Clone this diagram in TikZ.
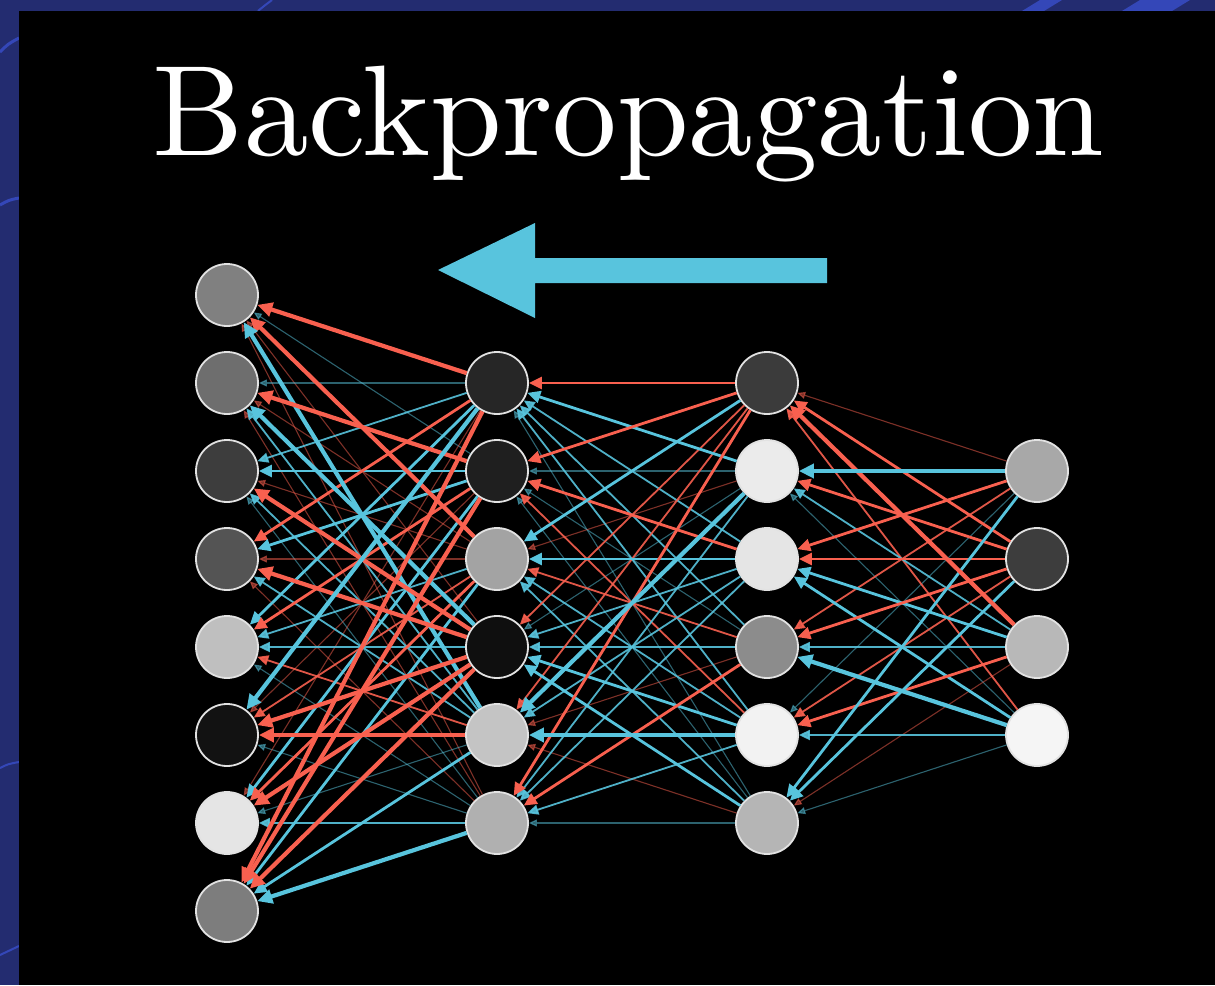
\documentclass[tikz,border=0pt]{standalone}
\usepackage{fontspec}
\usetikzlibrary{arrows.meta}
\newfontfamily\titlefont{lmroman10-regular.otf}
\definecolor{bpblue}{HTML}{58C4DD}
\definecolor{bpred}{HTML}{F8604F}
\definecolor{navyframe}{HTML}{232C70}
\definecolor{navystreak}{HTML}{3447B8}
\definecolor{ringgray}{HTML}{E2E2E2}

\begin{document}
\begin{tikzpicture}[x=1pt,y=-1pt,
  neuron/.style={circle, draw=ringgray, line width=1.8pt, minimum size=62pt, inner sep=0pt},
  w0/.style={line width=1.1pt, opacity=0.5, -{Triangle[length=8pt,width=7pt]}},
  w1/.style={line width=1.8pt, opacity=0.9, -{Triangle[length=11pt,width=10pt]}},
  w2/.style={line width=2.8pt, -{Triangle[length=13pt,width=12pt]}},
  w3/.style={line width=4.2pt, -{Triangle[length=15pt,width=14pt]}},
  r0/.style={w0, color=bpred}, r1/.style={w1, color=bpred},
  r2/.style={w2, color=bpred}, r3/.style={w3, color=bpred},
  b0/.style={w0, color=bpblue}, b1/.style={w1, color=bpblue},
  b2/.style={w2, color=bpblue}, b3/.style={w3, color=bpblue}]
\useasboundingbox (0,0) rectangle (1215,985);

% frame behind the slide
\fill[navyframe] (0,0) rectangle (1215,985);
\draw[navystreak, line width=3pt] (0,52) .. controls (8,44) .. (19,38);
\draw[navystreak, line width=3pt] (0,205) .. controls (9,200) .. (19,198);
\draw[navystreak, line width=2pt] (0,768) .. controls (8,764) .. (19,762);
\draw[navystreak, line width=2pt] (0,955) .. controls (9,950) .. (19,946);
\draw[navystreak, line width=2pt] (258,11) .. controls (264,6) .. (272,0);
\fill[navystreak] (1022,11) -- (1040,0) -- (1062,0) -- (1044,11) -- cycle;
\fill[navystreak] (1122,11) -- (1140,0) -- (1190,0) -- (1172,11) -- cycle;

% slide
\fill[black] (19,11) rectangle (1215,985);

% title
\node[anchor=base west, inner sep=0pt, text=white,
      font=\titlefont\fontsize{129}{140}\selectfont] (title) at (152.5,155) {Backpropagation};

% direction arrow
\fill[bpblue] (827,258) -- (535,258) -- (535,223) -- (438,270) -- (535,318)
  -- (535,283) -- (827,283) -- cycle;

% layers
\foreach \g [count=\i] in {50,43,24,33,75,7,90,49}
  \node[neuron, fill=white!\g!black] (A\i) at (227,{295+88*(\i-1)}) {};
\foreach \g [count=\i] in {15,12,64,6,77,69}
  \node[neuron, fill=white!\g!black] (B\i) at (497,{383+88*(\i-1)}) {};
\foreach \g [count=\i] in {23,92,90,55,95,71}
  \node[neuron, fill=white!\g!black] (C\i) at (767,{383+88*(\i-1)}) {};
\foreach \g [count=\i] in {66,24,72,96}
  \node[neuron, fill=white!\g!black] (D\i) at (1037,{471+88*(\i-1)}) {};

% gradient flow, faint to strong
\foreach \s/\t/\st in {
  B4/A1/r0, B6/A1/r0, B2/A1/b0, B1/A2/b0, B3/A2/r0, B6/A2/r0, B3/A3/r0, B6/A3/b0,
  B3/A4/r0, B6/A4/r0, B6/A5/b0, B2/A6/r0, B6/A6/b0, B1/A7/r0, B5/A7/b0,
  C6/B1/b0, C2/B2/b0, C4/B2/b0, C6/B2/b0, C2/B3/r0, C2/B4/b0, C4/B5/r0, C6/B5/r0, C6/B6/b0,
  D1/C1/r0, D4/C2/b0, D1/C5/b0, D3/C6/r0, D4/C6/b0,
  B5/A2/b1, B1/A3/b1, B5/A3/b1, B5/A4/b1, B3/A5/b1, B4/A5/b1, B5/A5/r1, B3/A6/r1, B6/A7/b1,
  C3/B1/b1, C4/B1/b1, C5/B1/b1, C5/B2/r1, C4/B3/r1, C5/B3/b1, C6/B3/b1, C1/B4/r1,
  C3/B4/b1, C4/B4/b1, C1/B5/r1, C3/B5/b1, C2/B6/b1, C3/B6/b1, C5/B6/b1,
  D4/C1/r1, D3/C2/b1, D1/C4/r1, D3/C4/b1, D2/C5/r1, D4/C5/b1,
  B2/A3/b2, B1/A4/r2, B2/A4/b2, B1/A5/b2, B2/A5/r2, B2/A7/b2, B3/A7/r2, B3/A8/b2, B5/A8/b2,
  C1/B1/r2, C2/B1/b2, C1/B2/r2, C3/B2/r2, C1/B3/b2, C3/B3/b2, C5/B4/b2, C6/B4/b2, C1/B6/r2, C4/B6/r2,
  D2/C1/r2, D2/C2/r2, D1/C3/r2, D2/C3/r2, D3/C3/b2, D4/C3/b2, D2/C4/r2, D3/C5/r2, D1/C6/b2, D2/C6/b2,
  B1/A1/r3, B3/A1/r3, B5/A1/b3, B2/A2/r3, B4/A2/b3, B4/A3/r3, B4/A4/r3, B1/A6/b3,
  B4/A6/r3, B5/A6/r3, B4/A7/r3, B1/A8/r3, B2/A8/r3, B4/A8/r3, B6/A8/b3,
  C2/B5/b3, C5/B5/b3,
  D3/C1/r3, D1/C2/b3, D4/C4/b3}
  \draw[\st] (\s) -- (\t);
\end{tikzpicture}
\end{document}
